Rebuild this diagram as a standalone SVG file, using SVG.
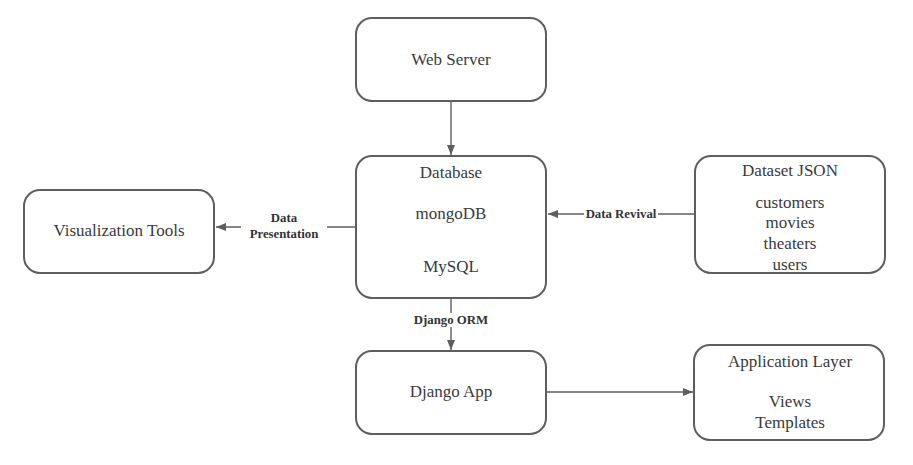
<svg xmlns="http://www.w3.org/2000/svg" width="913" height="465" viewBox="0 0 913 465">
<style>
.box{fill:#ffffff;stroke:#5e5e5e;stroke-width:2}
.t{font-family:"Liberation Serif","Times New Roman","DejaVu Serif",serif;font-size:17px;fill:#3a3a3a;text-anchor:middle}
.l{font-family:"Liberation Serif","Times New Roman","DejaVu Serif",serif;font-size:12.8px;font-weight:bold;fill:#333333;text-anchor:middle}
.c{fill:none;stroke:#5e5e5e;stroke-width:1.4}
.lb{fill:#ffffff}
</style>
<defs>
<marker id="ah" viewBox="0 0 10 10" refX="10" refY="5" markerWidth="10" markerHeight="10" markerUnits="userSpaceOnUse" orient="auto">
<path d="M0,1 L10,5 L0,9 Z" fill="#5e5e5e"/>
</marker>
</defs>
<rect width="913" height="465" fill="#ffffff"/>
<g id="connectors">
<path class="c" d="M451,102 L451,155" marker-end="url(#ah)"/>
<path class="c" d="M356,227 L216,227" marker-end="url(#ah)"/>
<path class="c" d="M695,214 L548,214" marker-end="url(#ah)"/>
<path class="c" d="M451,299 L451,350" marker-end="url(#ah)"/>
<path class="c" d="M547,392 L693,392" marker-end="url(#ah)"/>
<rect class="lb" x="241" y="210" width="86" height="32"/>
<text class="l" x="284" y="222">Data</text>
<text class="l" x="284" y="238">Presentation</text>
<rect class="lb" x="584" y="207" width="74" height="14"/>
<text class="l" x="621" y="218">Data Revival</text>
<rect class="lb" x="408" y="313" width="86" height="14"/>
<text class="l" x="451" y="324">Django ORM</text>
</g>
<g id="web-server">
<rect class="box" x="356" y="18" width="190" height="83" rx="16"/>
<text class="t" x="451" y="65">Web Server</text>
</g>
<g id="database">
<rect class="box" x="356" y="156" width="190" height="142" rx="16"/>
<text class="t" x="451" y="178">Database</text>
<text class="t" x="451" y="219">mongoDB</text>
<text class="t" x="451" y="272">MySQL</text>
</g>
<g id="visualization-tools">
<rect class="box" x="24" y="190" width="190" height="83" rx="16"/>
<text class="t" x="119" y="236">Visualization Tools</text>
</g>
<g id="dataset-json">
<rect class="box" x="695" y="156" width="190" height="117" rx="16"/>
<text class="t" x="790" y="176">Dataset JSON</text>
<text class="t" x="790" y="208">customers</text>
<text class="t" x="790" y="228">movies</text>
<text class="t" x="790" y="249">theaters</text>
<text class="t" x="790" y="270">users</text>
</g>
<g id="django-app">
<rect class="box" x="356" y="351" width="190" height="83" rx="16"/>
<text class="t" x="451" y="397">Django App</text>
</g>
<g id="application-layer">
<rect class="box" x="694" y="345" width="190" height="95" rx="16"/>
<text class="t" x="790" y="367">Application Layer</text>
<text class="t" x="790" y="407">Views</text>
<text class="t" x="790" y="428">Templates</text>
</g>
</svg>
